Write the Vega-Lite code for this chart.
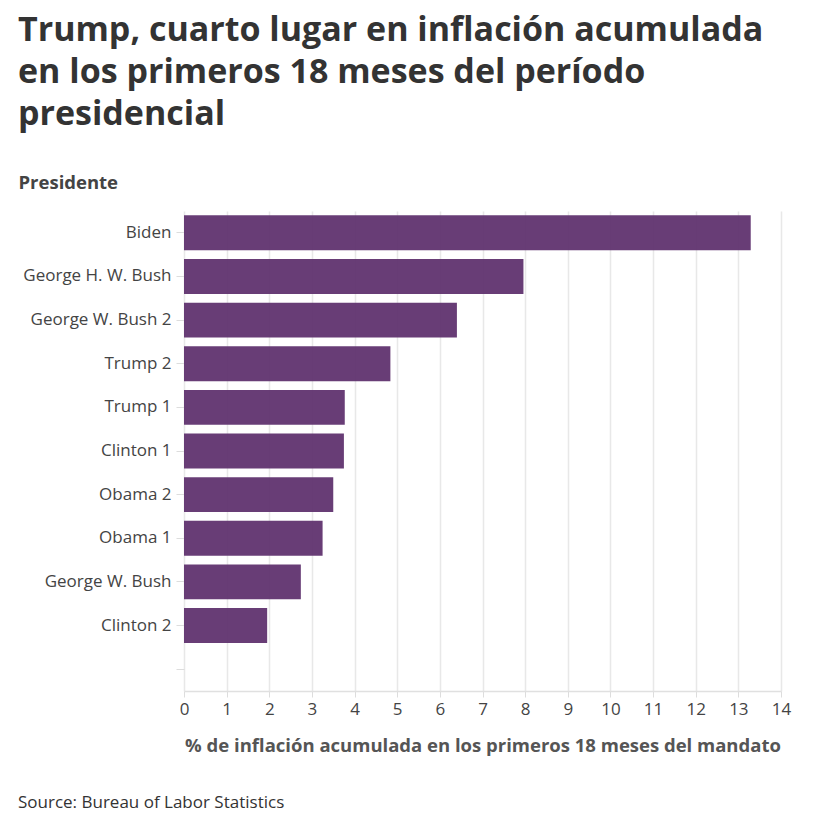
{
  "$schema": "https://vega.github.io/schema/vega-lite/v6.json",
  "padding": {"left": 18, "top": 14, "right": 10, "bottom": 10},
  "background": "white",
  "title": {
    "text": "Source: Bureau of Labor Statistics",
    "orient": "bottom",
    "anchor": "start",
    "frame": "bounds",
    "font": "Open Sans",
    "fontSize": 17,
    "fontWeight": "normal",
    "color": "#333333",
    "offset": 40
  },
  "vconcat": [
    {
      "width": 597,
      "height": 480,
      "title": {
        "text": [
          "Trump, cuarto lugar en inflación acumulada",
          "en los primeros 18 meses del período",
          "presidencial"
        ],
        "anchor": "start",
        "frame": "bounds",
        "font": "Open Sans",
        "fontSize": 34,
        "lineHeight": 42,
        "fontWeight": "bold",
        "color": "#333333",
        "offset": 41
      },
      "data": {
        "values": [
          {"presidente": "Biden", "inflacion": 13.29},
          {"presidente": "George H. W. Bush", "inflacion": 7.96},
          {"presidente": "George W. Bush 2", "inflacion": 6.4},
          {"presidente": "Trump 2", "inflacion": 4.84},
          {"presidente": "Trump 1", "inflacion": 3.77},
          {"presidente": "Clinton 1", "inflacion": 3.75},
          {"presidente": "Obama 2", "inflacion": 3.5},
          {"presidente": "Obama 1", "inflacion": 3.25},
          {"presidente": "George W. Bush", "inflacion": 2.74},
          {"presidente": "Clinton 2", "inflacion": 1.95}
        ]
      },
      "mark": {"type": "bar", "color": "#623570", "opacity": 0.96},
      "encoding": {
        "y": {
          "field": "presidente",
          "type": "nominal",
          "title": "Presidente",
          "scale": {
            "domain": [
              "Biden", "George H. W. Bush", "George W. Bush 2", "Trump 2",
              "Trump 1", "Clinton 1", "Obama 2", "Obama 1", "George W. Bush",
              "Clinton 2", " "
            ],
            "paddingInner": 0.2,
            "paddingOuter": 0.1
          },
          "axis": {
            "domain": false,
            "ticks": true,
            "tickColor": "#dddddd",
            "tickSize": 8,
            "labelPadding": 5,
            "labelFont": "Open Sans",
            "labelFontSize": 17,
            "labelColor": "#444444",
            "titleFont": "Open Sans",
            "titleFontSize": 18.5,
            "titleFontWeight": "bold",
            "titleColor": "#444444",
            "titleAngle": 0,
            "titleAlign": "left",
            "titleBaseline": "middle",
            "titleX": -166,
            "titleY": -29
          }
        },
        "x": {
          "field": "inflacion",
          "type": "quantitative",
          "title": "% de inflación acumulada en los primeros 18 meses del mandato",
          "scale": {"domain": [0, 14], "nice": false},
          "axis": {
            "values": [0, 1, 2, 3, 4, 5, 6, 7, 8, 9, 10, 11, 12, 13, 14],
            "grid": true,
            "gridColor": "#e8e8e8",
            "gridWidth": 1.5,
            "domainColor": "#e0e0e0",
            "domainWidth": 1.5,
            "tickColor": "#dddddd",
            "tickSize": 6,
            "labelPadding": 4,
            "labelFlush": false,
            "labelFont": "Open Sans",
            "labelFontSize": 17,
            "labelColor": "#444444",
            "titleFont": "Open Sans",
            "titleFontSize": 18.5,
            "titleFontWeight": "bold",
            "titleColor": "#555555",
            "titlePadding": 19
          }
        }
      }
    }
  ],
  "config": {"view": {"stroke": null}}
}
